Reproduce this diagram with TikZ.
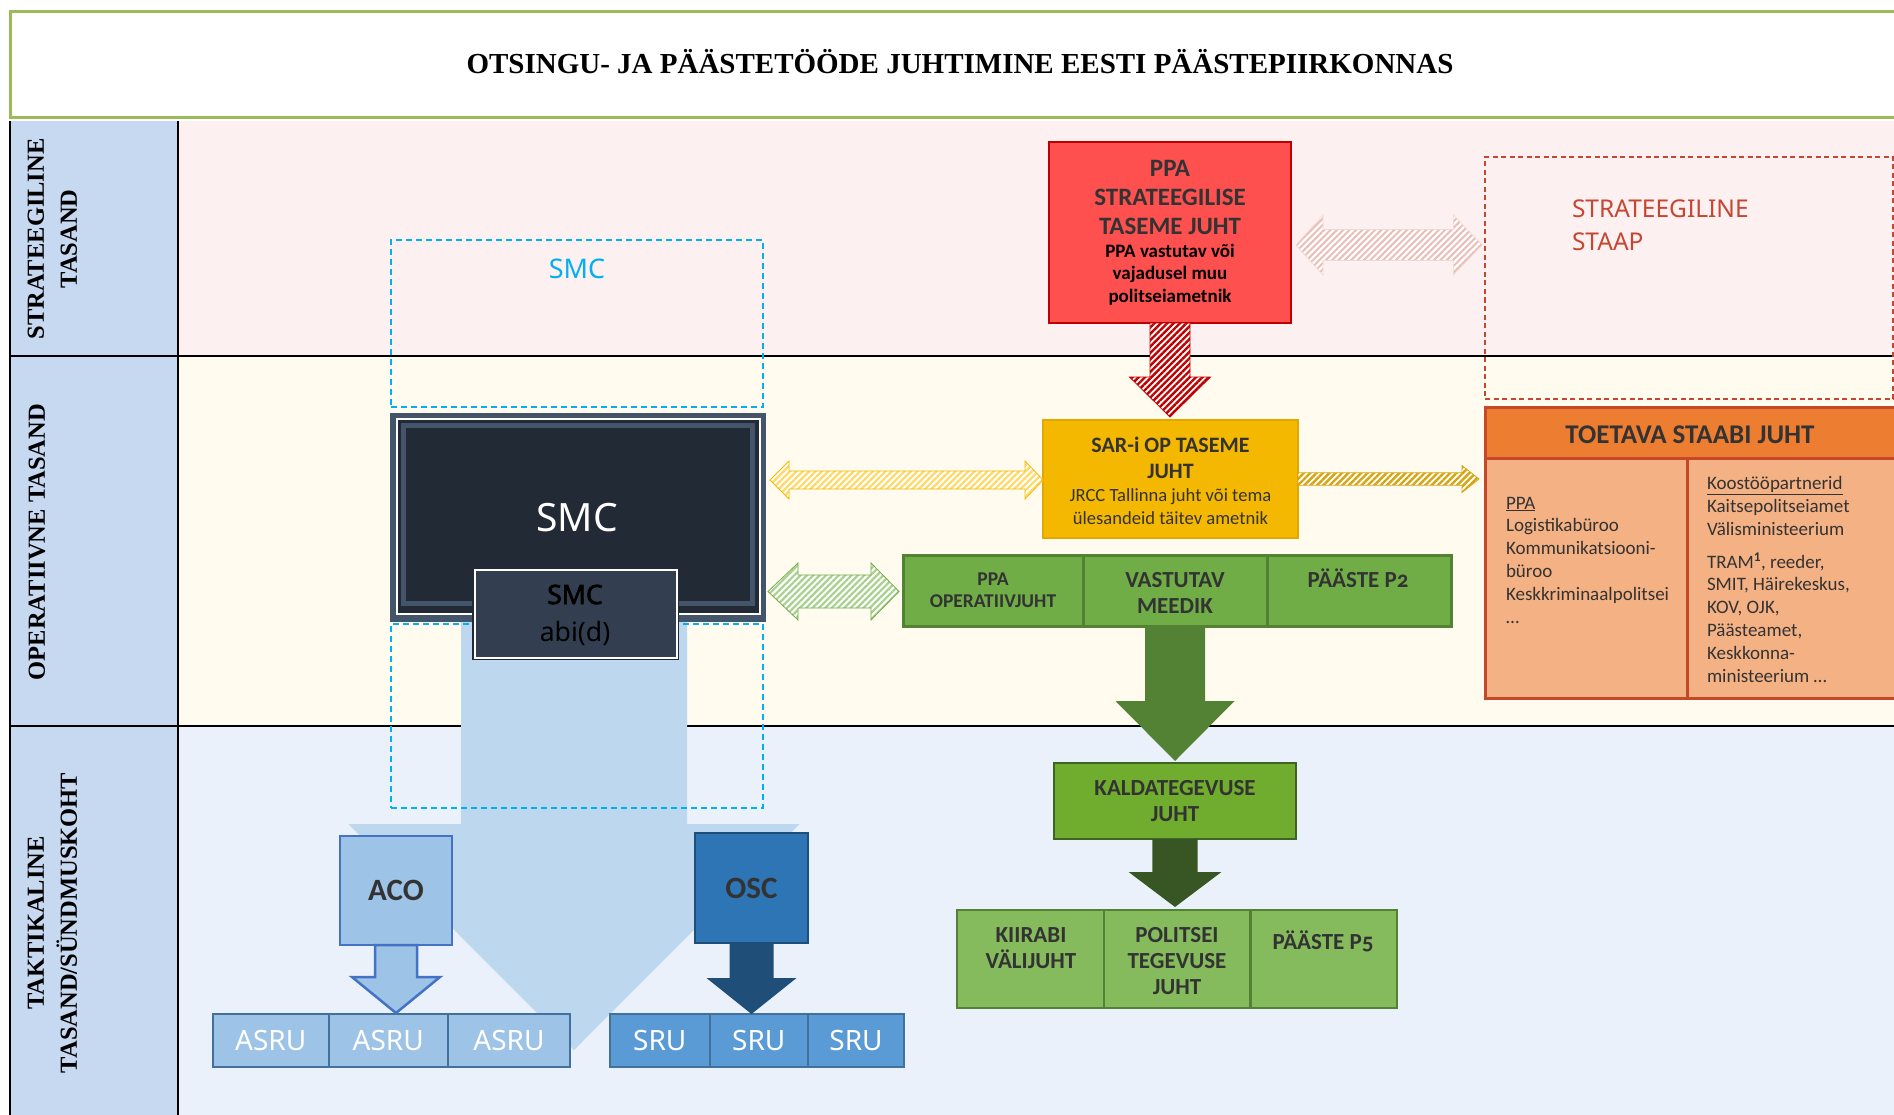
\documentclass[tikz,border=0pt]{standalone}
\usepackage{fontspec}
\usepackage{graphicx}
\setmainfont{Carlito}
\newfontfamily\serifbf{Liberation Serif}
\newfontfamily\notosans{Noto Sans}
\newfontfamily\notofakebold{Noto Sans}[FakeBold=2.5]
\usetikzlibrary{calc,patterns.meta}

\definecolor{titlegreen}{RGB}{155,187,89}
\definecolor{colblue}{RGB}{198,217,241}
\definecolor{bandpink}{RGB}{253,240,240}
\definecolor{bandcream}{RGB}{255,251,239}
\definecolor{bandblue}{RGB}{234,241,250}
\definecolor{ppared}{RGB}{255,80,80}
\definecolor{darkred}{RGB}{192,0,0}
\definecolor{staapred}{RGB}{197,70,50}
\definecolor{smccyan}{RGB}{0,176,240}
\definecolor{slate}{RGB}{68,84,106}
\definecolor{navy}{RGB}{34,42,53}
\definecolor{slatetwo}{RGB}{51,63,80}
\definecolor{lightblue}{RGB}{189,215,238}
\definecolor{acoblue}{RGB}{157,195,230}
\definecolor{acoline}{RGB}{68,114,196}
\definecolor{boxline}{RGB}{65,113,156}
\definecolor{oscblue}{RGB}{46,117,182}
\definecolor{darkblue}{RGB}{31,78,121}
\definecolor{srublue}{RGB}{91,155,213}
\definecolor{gold}{RGB}{245,184,0}
\definecolor{goldline}{RGB}{225,168,0}
\definecolor{greenone}{RGB}{112,173,71}
\definecolor{greenoneline}{RGB}{84,130,53}
\definecolor{greentwo}{RGB}{112,173,46}
\definecolor{greentwoline}{RGB}{60,100,35}
\definecolor{greenthree}{RGB}{133,186,93}
\definecolor{darkgreen}{RGB}{55,86,35}
\definecolor{orangeone}{RGB}{237,125,49}
\definecolor{orangetwo}{RGB}{244,177,131}
\definecolor{orangeline}{RGB}{197,72,40}
\definecolor{txt}{RGB}{51,51,51}
\definecolor{pinkstripe}{RGB}{232,190,182}
\definecolor{yellowstripe}{RGB}{255,217,102}
\definecolor{goldstripe}{RGB}{214,165,20}
\definecolor{greenstripe}{RGB}{169,209,142}

% block arrows: style, from, to, shaft half width, head half width, head length
\newcommand\downarrowblock[6]{%
 \path[#1] let \p1=(#2), \p2=(#3) in
   (\x1-#4pt,\y1) -- (\x1+#4pt,\y1) -- (\x1+#4pt,\y2+#6pt) -- (\x1+#5pt,\y2+#6pt)
   -- (\x1,\y2) -- (\x1-#5pt,\y2+#6pt) -- (\x1-#4pt,\y2+#6pt) -- cycle;}
\newcommand\doublearrowblock[7]{%
 \path[#1] let \p1=(#2), \p2=(#3) in
  (\x1,\y1) -- (\x1+#6pt,\y1+#5pt) -- (\x1+#6pt,\y1+#4pt) -- (\x2-#7pt,\y1+#4pt)
  -- (\x2-#7pt,\y1+#5pt) -- (\x2,\y1) -- (\x2-#7pt,\y1-#5pt) -- (\x2-#7pt,\y1-#4pt)
  -- (\x1+#6pt,\y1-#4pt) -- (\x1+#6pt,\y1-#5pt) -- cycle;}
\newcommand\rightarrowblock[6]{%
 \path[#1] let \p1=(#2), \p2=(#3) in
  (\x1,\y1+#4pt) -- (\x2-#6pt,\y1+#4pt) -- (\x2-#6pt,\y1+#5pt) -- (\x2,\y1)
  -- (\x2-#6pt,\y1-#5pt) -- (\x2-#6pt,\y1-#4pt) -- (\x1,\y1-#4pt) -- cycle;}

\begin{document}
\begin{tikzpicture}[x=1pt,y=-1pt,
  every node/.style={inner sep=0pt,outer sep=0pt},
  lvl/.style={rotate=90,align=center,font=\serifbf\bfseries\fontsize{24.5}{33}\selectfont},
  smcdash/.style={draw=smccyan,line width=1.5pt,dash pattern=on 6pt off 4pt},
  redhatch/.style={preaction={fill=white},pattern={Lines[angle=45,distance=4.5pt,line width=2.4pt]},pattern color=darkred,draw=darkred,line width=0.8pt},
  pinkhatch/.style={preaction={fill=white},pattern={Lines[angle=45,distance=4.5pt,line width=2pt]},pattern color=pinkstripe,draw=pinkstripe!60,line width=0.6pt},
  yellowhatch/.style={preaction={fill=white},pattern={Lines[angle=45,distance=4.5pt,line width=2.2pt]},pattern color=yellowstripe,draw=gold,line width=0.8pt},
  goldhatch/.style={preaction={fill=white},pattern={Lines[angle=45,distance=4.5pt,line width=2.4pt]},pattern color=goldstripe,draw=goldstripe,line width=0.8pt},
  greenhatch/.style={preaction={fill=white},pattern={Lines[angle=45,distance=4.5pt,line width=2.2pt]},pattern color=greenstripe,draw=greenone,line width=0.8pt},
  bigb/.style={font=\bfseries\fontsize{23}{26}\selectfont,text=txt,align=center},
  asrubox/.style={fill=acoblue,draw=boxline,line width=2pt,minimum height=53,text=white,font=\notosans\fontsize{28}{30}\selectfont},
  srubox/.style={fill=srublue,draw=boxline,line width=2pt,minimum height=53,text=white,font=\notosans\fontsize{28}{30}\selectfont},
  greenrowbox/.style={fill=greenone,draw=greenoneline,line width=3pt,minimum height=71},
  bottomrowbox/.style={fill=greenthree,draw=greenoneline,line width=2.5pt,minimum height=98},
  bodytxt/.style={anchor=base west,align=left,text=txt,font=\fontsize{19}{22.8}\selectfont}
]
\useasboundingbox (0,0) rectangle (1894,1115);

% bands
\fill[bandpink] (178,121) rectangle (1894,356);
\fill[bandcream] (178,356) rectangle (1894,726);
\fill[bandblue] (178,726) rectangle (1894,1115);
\fill[colblue] (10,121) rectangle (178,1115);
\draw[line width=2pt] (10,356) -- (1894,356);
\draw[line width=2pt] (10,726) -- (1894,726);
\draw[line width=2pt] (178,121) -- (178,1115);
\draw[line width=2.5pt] (10,121) -- (10,1115);

% title
\node[draw=titlegreen,line width=3pt,minimum width=1900,minimum height=106,anchor=north west] (titlebox) at (10,12) {};
\node[anchor=base,font=\serifbf\bfseries\fontsize{29}{32}\selectfont] (titletext) at (960,74)
  {OTSINGU- JA PÄÄSTETÖÖDE JUHTIMINE EESTI PÄÄSTEPIIRKONNAS};

% level labels
\node[lvl] (lvone) at (52.5,239) {STRATEEGILINE\\TASAND};
\node[lvl] (lvtwo) at (37,542) {OPERATIIVNE TASAND};
\node[lvl] (lvthree) at (52.5,923) {TAKTIKALINE\\TASAND/SÜNDMUSKOHT};

% big light blue arrow (behind)
\coordinate (bigTop) at (574,600);
\coordinate (bigTip) at (574,1050);
\downarrowblock{fill=lightblue}{bigTop}{bigTip}{113}{225.5}{226}

% SMC dashed frames
\node[smcdash,minimum width=372,minimum height=167] (smcstrat) at (577,323.5) {};
\node[anchor=base,text=smccyan,font=\notosans\fontsize{27}{30}\selectfont] (smclabel) at (577,279) {SMC};
\node[smcdash,minimum width=372,minimum height=184] (smcdown) at (577,716) {};

% SMC main box
\node[fill=slate,minimum width=376,minimum height=209] (smc) at (578,517.5) {};
\draw[white,line width=2pt,fill=navy] ($(smc.north west)+(6.5,5.5)$) rectangle ($(smc.south east)+(-6,-8)$);
\draw[slate,line width=5pt] ($(smc.north west)+(13.5,12.5)$) rectangle ($(smc.south east)+(-13.5,-18.5)$);
\node[anchor=base,text=white,font=\notosans\fontsize{39}{42}\selectfont] (smctext) at (577,531) {SMC};

% SMC abi(d)
\node[fill=navy,minimum width=207,minimum height=93] (smcabi) at (575.5,613.5) {};
\draw[white,line width=2pt,fill=slatetwo] ($(smcabi.north west)+(2.5,2.5)$) rectangle ($(smcabi.south east)+(-2.5,-2.5)$);
\node[anchor=base,align=center,text=black,font=\notosans\fontsize{26.6}{37}\selectfont] (abitext) at (575,641) {{\notofakebold SMC}\\abi(d)};

% tactical blue boxes
\node[fill=acoblue,draw=acoline,line width=2pt,minimum width=112,minimum height=109,text=txt,font=\bfseries\fontsize{31}{33}\selectfont] (aco) at (396,890.5) {ACO};
\node[fill=oscblue,draw=darkblue,line width=2pt,minimum width=113,minimum height=110,text=txt,font=\bfseries\fontsize{31}{33}\selectfont] (osc) at (751.5,888) {OSC};
\node[asrubox,minimum width=115.5] (asruone) at (270.75,1040.5) {ASRU};
\node[asrubox,minimum width=119.5] (asrutwo) at (388.25,1040.5) {ASRU};
\node[asrubox,minimum width=122] (asruthree) at (509,1040.5) {ASRU};
\node[srubox,minimum width=99.6] (sruone) at (659.8,1040.5) {SRU};
\node[srubox,minimum width=98.4] (srutwo) at (758.8,1040.5) {SRU};
\node[srubox,minimum width=96] (sruthree) at (856,1040.5) {SRU};
\coordinate (acoTip) at ($(asrutwo.north)+(0,-1)$);
\coordinate (oscTip) at (srutwo.north);
\downarrowblock{fill=acoblue,draw=acoline,line width=2.5pt}{aco.south}{acoTip}{21}{44}{36}
\downarrowblock{fill=darkblue}{osc.south}{oscTip}{22}{45}{36}

% strategic
\node[fill=ppared,draw=darkred,line width=2pt,minimum width=242,minimum height=181] (ppa) at (1170,232.5) {};
\node[anchor=base,align=center,text=txt,font=\bfseries\fontsize{25}{29}\selectfont] (ppatitle) at (1170,235) {PPA\\STRATEEGILISE\\TASEME JUHT};
\node[anchor=base,align=center,text=black,font=\bfseries\fontsize{19}{22.5}\selectfont] (ppasub) at (1170,302) {PPA vastutav või\\vajadusel muu\\politseiametnik};
\node[draw=staapred,line width=1.5pt,dash pattern=on 5pt off 3.5pt,minimum width=408,minimum height=242] (staap) at (1689,278) {};
\node[anchor=base west,align=left,text=staapred,font=\notosans\fontsize{24.5}{33}\selectfont] (staaptext) at (1572,251) {STRATEEGILINE\\STAAP};

% operative
\node[fill=gold,draw=goldline,line width=2pt,minimum width=255,minimum height=118] (sar) at (1170.5,479) {};
\node[anchor=base,align=center,text=txt,font=\bfseries\fontsize{22}{26}\selectfont] (sartitle) at (1170.5,478) {SAR-i OP TASEME\\JUHT};
\node[anchor=base,align=center,text=txt,font=\fontsize{18.6}{23}\selectfont] (sarsub) at (1170.5,524) {JRCC Tallinna juht või tema\\ülesandeid täitev ametnik};

\node[greenrowbox,minimum width=180] (gone) at (993,590.5) {};
\node[greenrowbox,minimum width=184] (gtwo) at (1175,590.5) {};
\node[greenrowbox,minimum width=184] (gthree) at (1359,590.5) {};
\node[anchor=base,align=center,text=txt,font=\bfseries\fontsize{19.5}{22}\selectfont] (gonetext) at (993,607) {PPA\\OPERATIIVJUHT};
\node[bigb,anchor=base] (gtwotext) at (1175,613) {VASTUTAV\\MEEDIK};
\node[bigb,anchor=base] (gthreetext) at (1358,587) {PÄÄSTE P{\addfontfeatures{Numbers=OldStyle}2}};

\node[fill=orangeone,draw=orangeline,line width=3pt,minimum width=420,minimum height=51,anchor=north west] (toethead) at (1485,407) {};
\node[fill=orangetwo,draw=orangeline,line width=3pt,minimum width=420,minimum height=240,anchor=north west] (toetbody) at (1485,458) {};
\draw[orangeline,line width=3pt] ($(toetbody.north west)+(202,0)$) -- ($(toetbody.south west)+(202,0)$);
\node[anchor=base,text=txt,font=\bfseries\fontsize{27}{30}\selectfont] (toettext) at (1690,443) {TOETAVA STAABI JUHT};
\node[bodytxt] (ppalist) at (1506,623) {\underline{PPA}\\Logistikabüroo\\Kommunikatsiooni-\\büroo\\Keskkriminaalpolitsei\\…};
\node[bodytxt] (partners) at (1707,682) {\underline{Koostööpartnerid}\\Kaitsepolitseiamet\\Välisministeerium\\[10pt]TRAM\textsuperscript{\bfseries 1}, reeder,\\SMIT, Häirekeskus,\\KOV, OJK,\\Päästeamet,\\Keskkonna-\\ministeerium …};

% tactical green
\node[fill=greentwo,draw=greentwoline,line width=2.5pt,minimum width=242,minimum height=76] (kald) at (1175,801) {};
\node[bigb,anchor=base] (kaldtext) at (1175,821) {KALDATEGEVUSE\\JUHT};
\node[bottomrowbox,minimum width=147] (bone) at (1030.5,959) {};
\node[bottomrowbox,minimum width=146.7] (btwo) at (1177.35,959) {};
\node[bottomrowbox,minimum width=146.3] (bthree) at (1323.85,959) {};
\node[bigb,anchor=base] (bonetext) at (1031,968) {KIIRABI\\VÄLIJUHT};
\node[bigb,anchor=base] (btwotext) at (1177,994) {POLITSEI\\TEGEVUSE\\JUHT};
\node[bigb,anchor=base] (bthreetext) at (1323,949) {PÄÄSTE P{\addfontfeatures{Numbers=OldStyle}5}};

% connectors
\coordinate (redTip) at ($(sar.north)+(0,-3)$);
\downarrowblock{redhatch}{ppa.south}{redTip}{20}{40.5}{40}
\coordinate (pinkL) at ($(ppa.east)+(5,12.5)$);
\coordinate (pinkR) at ($(staap.west)+(-3,0)$);
\doublearrowblock{pinkhatch}{pinkL}{pinkR}{15.5}{30}{27}{28.6}
\coordinate (yelL) at ($(smc.east)+(4,-37.5)$);
\doublearrowblock{yellowhatch}{yelL}{sar.west}{9}{19}{19}{18}
\coordinate (goldR) at ($(toethead.west)+(-6,0)$);
\rightarrowblock{goldhatch}{sar.east}{goldR}{6.2}{13.5}{17}
\coordinate (grnL) at ($(smc.east)+(2,74)$);
\coordinate (grnR) at ($(gone.west)+(-4,0)$);
\doublearrowblock{greenhatch}{grnL}{grnR}{16.5}{28.5}{30}{28}
\coordinate (kaldTip) at ($(kald.north)+(0,-2)$);
\downarrowblock{fill=greenoneline}{gtwo.south}{kaldTip}{30}{59.5}{60}
\coordinate (bTip) at ($(btwo.north)+(0,-3)$);
\downarrowblock{fill=darkgreen}{kald.south}{bTip}{22.7}{46.4}{35}
\end{tikzpicture}
\end{document}
